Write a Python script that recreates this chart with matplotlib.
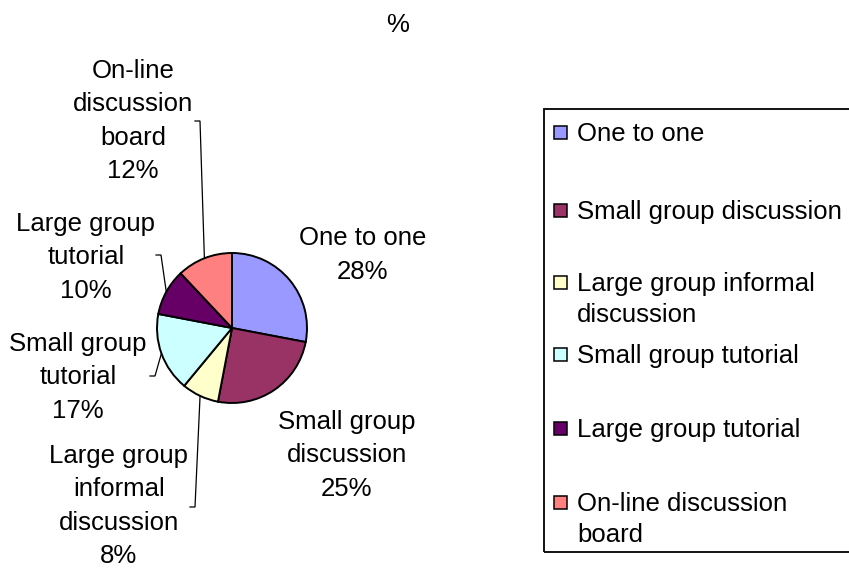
import numpy as np
import matplotlib.pyplot as plt
from matplotlib.patches import Rectangle

plt.rcParams['font.family'] = ['Liberation Sans', 'DejaVu Sans']

# --- data ---
categories = ["One to one", "Small group discussion", "Large group informal discussion",
              "Small group tutorial", "Large group tutorial", "On-line discussion board"]
values = [28, 25, 8, 17, 10, 12]
colors = ["#9999FF", "#993366", "#FFFFCC", "#CCFFFF", "#660066", "#FF8080"]

# wrapped texts for the slice labels and the legend
slice_names = ["One to one", "Small group\ndiscussion", "Large group\ninformal\ndiscussion",
               "Small group\ntutorial", "Large group\ntutorial", "On-line\ndiscussion\nboard"]
legend_names = ["One to one", "Small group discussion", "Large group informal\ndiscussion",
                "Small group tutorial", "Large group tutorial", "On-line discussion\nboard"]

W, H = 849, 570
FS = 18.5

fig = plt.figure(figsize=(W / 100, H / 100), dpi=100)
ax = fig.add_axes([0, 0, 1, 1])

def py(y):
    # pixel row (from top) -> data y
    return H - y

# pie
cx, cy, r = 232, 328, 75
wedges, _ = ax.pie(values, colors=colors, startangle=90, counterclock=False,
                   center=(cx, py(cy)), radius=r,
                   wedgeprops=dict(edgecolor="black", linewidth=1.4))
ax.set_xlim(0, W)
ax.set_ylim(0, H)
ax.set_aspect("auto")
ax.axis("off")

# slice labels
label_pos = [(363, 255), (347, 455), (119, 506), (78, 377), (86, 257), (133, 121)]
for name, v, (lx, ly) in zip(slice_names, values, label_pos):
    ax.text(lx, py(ly), f"{name}\n{v}%", ha="center", va="center",
            multialignment="center", fontsize=FS, linespacing=1.5)

# leader lines for the small slices: short tick next to the label, then to the wedge
leader_start = {2: (190, 507), 3: (150, 376), 4: (156, 255), 5: (195, 121)}
cum = np.cumsum([0] + values)
total = sum(values)
for i, (sx, sy) in leader_start.items():
    mid = (cum[i] + cum[i + 1]) / 2 / total
    ang = np.deg2rad(90 - 360 * mid)
    ex, ey = cx + r * np.cos(ang), cy - r * np.sin(ang)
    ax.plot([sx, sx + 5, ex], [py(sy), py(sy), py(ey)], color="black", lw=0.9,
            solid_joinstyle="miter")

# title
ax.text(398, py(25), "%", ha="center", va="center", fontsize=FS)

# legend box drawn by hand with evenly spaced rows
ax.add_patch(Rectangle((544, py(552)), 320, 552 - 109, facecolor="none",
                       edgecolor="black", lw=1.3, clip_on=False))
row_y = [132, 210, 282, 354, 428, 502]
line_gap = 31
for name, c, y in zip(legend_names, colors, row_y):
    ax.add_patch(Rectangle((554, py(y) - 6.5), 13, 13, facecolor=c,
                           edgecolor="black", lw=1.1))
    for k, line in enumerate(name.split("\n")):
        ax.text(577, py(y + k * line_gap) - 9, line, ha="left", va="baseline",
                fontsize=FS)

fig.savefig("out.png", dpi=100)
